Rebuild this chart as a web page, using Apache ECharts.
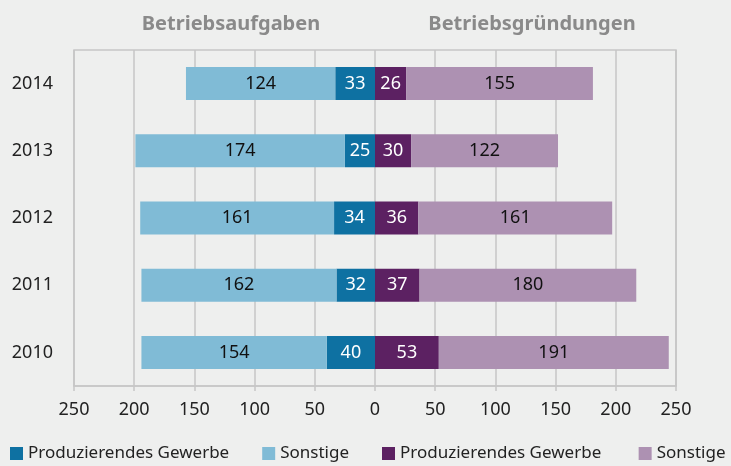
<!DOCTYPE html>
<html>
<head>
<meta charset="utf-8">
<script src="https://cdn.jsdelivr.net/npm/echarts@6/dist/echarts.min.js"></script>
<style>
  html, body { margin: 0; padding: 0; background: #eeefee; }
  #chart { width: 731px; height: 466px; }
</style>
</head>
<body>
<div id="chart"></div>
<script>
// Jahre (von unten nach oben)
var years = ['2010', '2011', '2012', '2013', '2014'];
// Betriebsaufgaben
var aufgabenProd = [40, 32, 34, 25, 33];
var aufgabenSonst = [154, 162, 161, 174, 124];
// Betriebsgründungen
var gruendProd = [53, 37, 36, 30, 26];
var gruendSonst = [191, 180, 161, 122, 155];

var font = '"Noto Sans", sans-serif';

function neg(arr) {
  return arr.map(function (v) { return -v; });
}

function lbl(color) {
  return {
    show: true,
    position: 'inside',
    color: color,
    fontSize: 18,
    fontFamily: font,
    formatter: function (p) { return Math.abs(p.value); }
  };
}

var chart = echarts.init(document.getElementById('chart'));

var option = {
  backgroundColor: '#eeefee',
  animation: false,
  title: [
    {
      text: 'Betriebsaufgaben',
      left: 226, top: 9, textAlign: 'center',
      textStyle: { color: '#8a8a8a', fontSize: 20, fontWeight: 'bold', fontFamily: font }
    },
    {
      text: 'Betriebsgründungen',
      left: 527, top: 9, textAlign: 'center',
      textStyle: { color: '#8a8a8a', fontSize: 20, fontWeight: 'bold', fontFamily: font }
    }
  ],
  legend: {
    bottom: 4,
    left: 10,
    width: 721,
    padding: 0,
    icon: 'rect',
    itemWidth: 13,
    itemHeight: 13,
    itemGap: 33,
    textStyle: { color: '#222', fontSize: 17, fontFamily: font }
  },
  grid: {
    left: 74, right: 55, top: 50, bottom: 80,
    show: true,
    borderColor: '#c6c6c6',
    borderWidth: 1.5
  },
  xAxis: {
    type: 'value',
    min: -250, max: 250, interval: 50,
    axisLine: { show: true, lineStyle: { color: '#c6c6c6', width: 1.5 } },
    axisTick: { show: true, length: 5, lineStyle: { color: '#c6c6c6', width: 1.5 } },
    splitLine: { show: true, lineStyle: { color: '#c6c6c6', width: 1.5 } },
    axisLabel: {
      color: '#222', fontSize: 18, fontFamily: font, margin: 15,
      formatter: function (v) { return Math.abs(v); }
    }
  },
  yAxis: {
    type: 'category',
    data: years,
    axisLine: { show: false },
    axisTick: { show: false },
    axisLabel: { color: '#222', fontSize: 18, fontFamily: font, margin: 21 }
  },
  series: [
    {
      name: 'Produzierendes Gewerbe',
      type: 'bar', stack: 'all', barWidth: 33,
      itemStyle: { color: '#0e71a2' },
      label: lbl('#fff'),
      data: neg(aufgabenProd)
    },
    {
      name: 'Sonstige',
      type: 'bar', stack: 'all', barWidth: 33,
      itemStyle: { color: '#80bbd6' },
      label: lbl('#111'),
      data: neg(aufgabenSonst)
    },
    {
      name: 'Produzierendes Gewerbe ',
      type: 'bar', stack: 'all', barWidth: 33,
      itemStyle: { color: '#5c2162' },
      label: lbl('#fff'),
      data: gruendProd
    },
    {
      name: 'Sonstige ',
      type: 'bar', stack: 'all', barWidth: 33,
      itemStyle: { color: '#ad91b2' },
      label: lbl('#111'),
      data: gruendSonst
    }
  ]
};

chart.setOption(option);
</script>
</body>
</html>
